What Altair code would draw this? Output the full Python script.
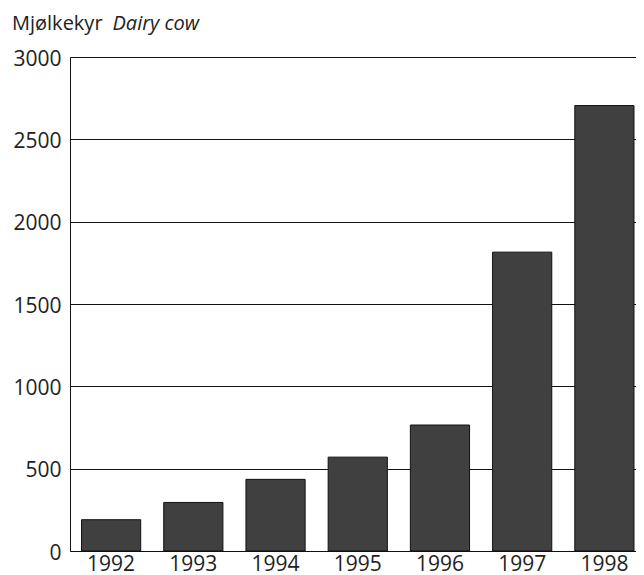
import altair as alt
import pandas as pd

years = ["1992", "1993", "1994", "1995", "1996", "1997", "1998"]
values = [190, 295, 435, 570, 765, 1815, 2705]
y_ticks = [0, 500, 1000, 1500, 2000, 2500, 3000]
title_no = "Mjølkekyr"
title_en = "Dairy cow"

FONT = "Open Sans"
TXT = "#222222"
df = pd.DataFrame({"year": years, "value": values})

bars = alt.Chart(df).mark_bar(
    color="#404040", stroke="#111111", strokeWidth=1
).encode(
    x=alt.X("year:O", title=None,
            scale=alt.Scale(paddingInner=0.28, paddingOuter=0.14, range=[0, 575.5]),
            axis=alt.Axis(labelAngle=0, ticks=False, tickSize=0, labelPadding=2,
                          domainColor="#111111", domainWidth=1,
                          labelFont=FONT, labelFontSize=21, labelColor=TXT)),
    y=alt.Y("value:Q", title=None,
            scale=alt.Scale(domain=[0, 3000], nice=False),
            axis=alt.Axis(values=y_ticks, format="d", ticks=False, tickSize=0, labelPadding=9,
                          grid=True, gridColor="#111111", gridWidth=1,
                          domainColor="#111111", domainWidth=1,
                          labelFont=FONT, labelFontSize=21, labelColor=TXT,
                          labelBaseline="middle", labelFlush=False, labelOffset=2)),
)

t1 = alt.Chart(pd.DataFrame({"t": [title_no]})).mark_text(
    font=FONT, fontSize=20, color=TXT, align="left", baseline="alphabetic"
).encode(text="t:N", x=alt.value(-58), y=alt.value(-27))

t2 = alt.Chart(pd.DataFrame({"t": [title_en]})).mark_text(
    font=FONT, fontSize=20, fontStyle="italic", color=TXT,
    align="left", baseline="alphabetic"
).encode(text="t:N", x=alt.value(42.5), y=alt.value(-27))

chart = alt.layer(bars, t1, t2).properties(
    width=566, height=494,
    autosize=alt.AutoSizeParams(type="none"),
    padding={"left": 62, "top": 49, "right": 0, "bottom": 30},
).configure_view(stroke=None).configure(background="white")

chart.save("out.html", embed_options={"renderer": "svg", "actions": False})
